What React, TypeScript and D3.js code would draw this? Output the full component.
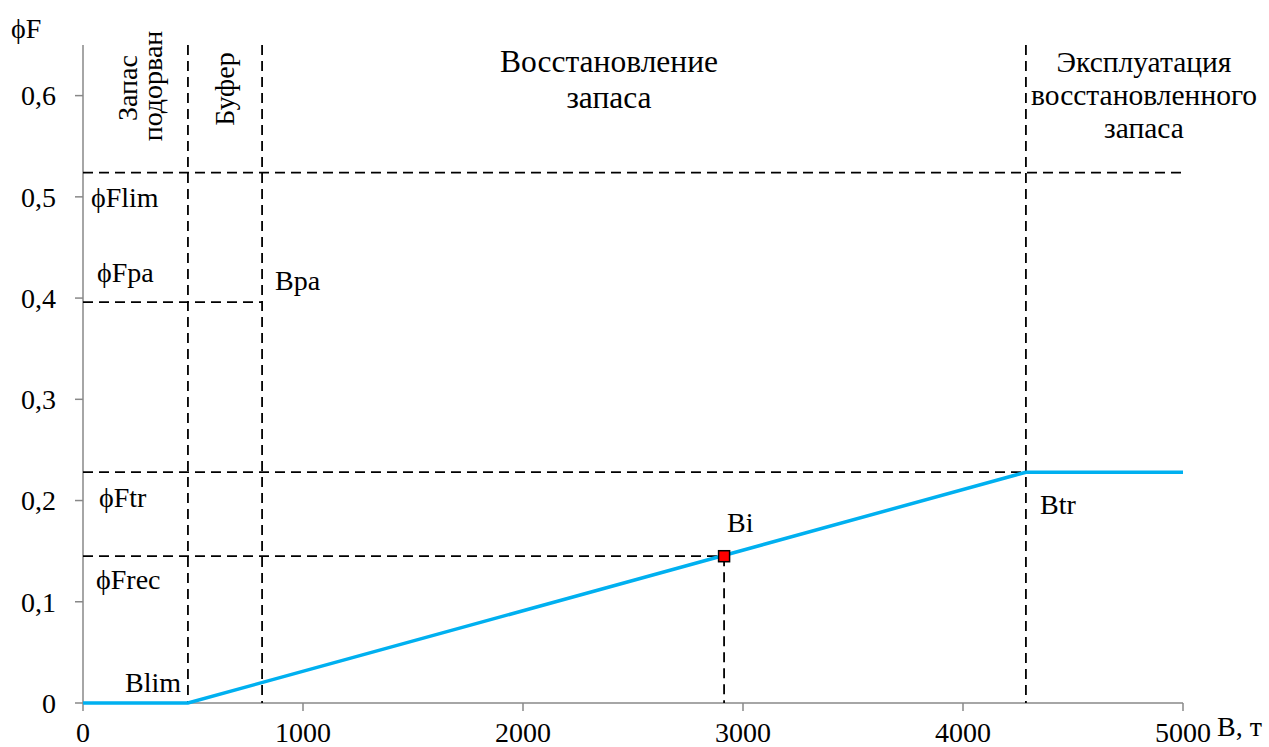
import React from "react";
import * as d3 from "d3";

const xTicks = [0, 1000, 2000, 3000, 4000, 5000];
const yTicks = [0, 0.1, 0.2, 0.3, 0.4, 0.5, 0.6];
const yTickLabels = ["0", "0,1", "0,2", "0,3", "0,4", "0,5", "0,6"];

// reference points
const Blim = 477;
const Bpa = 814;
const Btr = 4286;
const Bi = 2914;
const Flim = 0.524;
const Fpa = 0.396;
const Ftr = 0.228;
const Frec = 0.145;

const hcrX = [0, Blim, Btr, 5000];
const hcrY = [0, 0, Ftr, Ftr];

const W = 1269;
const H = 747;
const FONT = "'Times New Roman', 'Liberation Serif', serif";

export default function App() {
  const x = d3.scaleLinear().domain([0, 5000]).range([83, 1183]);
  const y = d3.scaleLinear().domain([0, 0.65]).range([703, 45]);
  const line = d3
    .line<number>()
    .x((d) => x(d))
    .y((_, i) => y(hcrY[i]));
  const dash = "10,6";
  const fs = 28;
  const top = y(0.65);
  const ts = { fontFamily: FONT, fontSize: fs };
  const tt = { fontFamily: FONT, fontSize: 31.5 };
  const te = { fontFamily: FONT, fontSize: 29.5 };

  return (
    <svg
      width={W}
      height={H}
      style={{ position: "absolute", left: 0, top: 0, background: "#fff", fontFamily: FONT }}
    >
      {/* axes */}
      <line x1={x(0)} x2={x(5000)} y1={y(0)} y2={y(0)} stroke="#888" strokeWidth={1.5} />
      <line x1={x(0)} x2={x(0)} y1={y(0)} y2={top} stroke="#888" strokeWidth={1.5} />
      {yTicks.map((t, i) => (
        <g key={"y" + i}>
          <line x1={x(0) - 8} x2={x(0)} y1={y(t)} y2={y(t)} stroke="#888" strokeWidth={1.5} />
          <text x={56} y={y(t)} dy="0.35em" textAnchor="end" style={ts} fill="#000">
            {yTickLabels[i]}
          </text>
        </g>
      ))}
      {xTicks.map((t, i) => (
        <g key={"x" + i}>
          <line x1={x(t)} x2={x(t)} y1={y(0)} y2={y(0) + 8} stroke="#888" strokeWidth={1.5} />
          <text x={x(t)} y={742} textAnchor="middle" style={ts} fill="#000">
            {t}
          </text>
        </g>
      ))}
      <text x={11} y={38} style={ts} fill="#000">{"\u03D5F"}</text>
      <text x={1217} y={736} style={ts} fill="#000">B, т</text>

      {/* dashed reference lines */}
      <g stroke="#000" strokeWidth={1.8} strokeDasharray={dash} fill="none">
        <line x1={x(Blim)} x2={x(Blim)} y1={top} y2={y(0)} />
        <line x1={x(Bpa)} x2={x(Bpa)} y1={top} y2={y(0)} />
        <line x1={x(Btr)} x2={x(Btr)} y1={top} y2={y(0)} />
        <line x1={x(Bi)} x2={x(Bi)} y1={y(Frec)} y2={y(0)} />
        <line x1={x(0)} x2={x(5000)} y1={y(Flim)} y2={y(Flim)} />
        <line x1={x(0)} x2={x(Bpa)} y1={y(Fpa)} y2={y(Fpa)} />
        <line x1={x(0)} x2={x(Btr)} y1={y(Ftr)} y2={y(Ftr)} />
        <line x1={x(0)} x2={x(Bi)} y1={y(Frec)} y2={y(Frec)} />
      </g>

      {/* HCR line */}
      <path d={line(hcrX) || ""} fill="none" stroke="#00B0F0" strokeWidth={3.5} />
      <rect
        x={x(Bi) - 5.5}
        y={y(Frec) - 5.5}
        width={11}
        height={11}
        fill="#FF0000"
        stroke="#000"
        strokeWidth={1.5}
      />

      {/* labels */}
      <g fill="#000">
        <text x={91} y={207} style={ts}>{"\u03D5Flim"}</text>
        <text x={97} y={282} style={ts}>{"\u03D5Fpa"}</text>
        <text x={275} y={290} style={ts}>Bpa</text>
        <text x={99} y={507} style={ts}>{"\u03D5Ftr"}</text>
        <text x={96} y={589} style={ts}>{"\u03D5Frec"}</text>
        <text x={125} y={692} style={ts}>Blim</text>
        <text x={727} y={532} style={ts}>Bi</text>
        <text x={1040} y={514} style={ts}>Btr</text>
      </g>

      {/* zone titles */}
      <g fill="#000" textAnchor="middle">
        <text transform={`translate(137,88) rotate(-90)`} style={ts}>Запас</text>
        <text transform={`translate(162,86) rotate(-90)`} style={ts}>подорван</text>
        <text transform={`translate(234,89) rotate(-90)`} style={ts}>Буфер</text>
        <text x={609} y={72} style={tt}>Восстановление</text>
        <text x={609} y={108} style={tt}>запаса</text>
        <text x={1144} y={72} style={te}>Эксплуатация</text>
        <text x={1144} y={105} style={te}>восстановленного</text>
        <text x={1144} y={138} style={te}>запаса</text>
      </g>
    </svg>
  );
}
